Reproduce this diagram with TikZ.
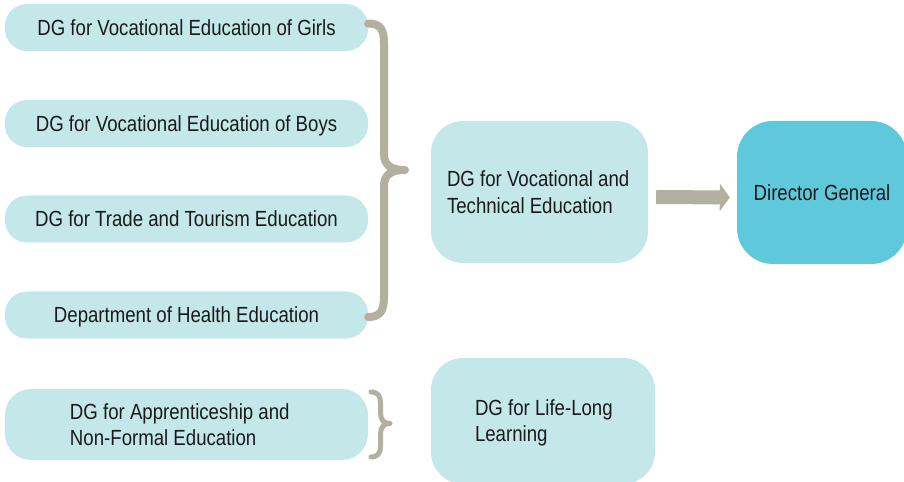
\documentclass[tikz,border=0pt]{standalone}
\usepackage{fontspec}
\setmainfont{Liberation Sans}[FakeStretch=0.85]
\usepackage{tikz}
\usetikzlibrary{positioning}
\usetikzlibrary{calc,arrows.meta}

\definecolor{boxlight}{HTML}{C4E8EA}
\definecolor{boxdark}{HTML}{5FC8DB}
\definecolor{bracegrey}{HTML}{B3B09F}
\definecolor{textdark}{HTML}{1A1A1A}

\begin{document}
\begin{tikzpicture}[x=1bp,y=-1bp,
	unit/.style={fill=boxlight, rounded corners=22bp, inner sep=0pt, text=textdark, text depth=0pt,
		minimum width=363bp, minimum height=47bp, font=\fontsize{22}{26.5}\selectfont},
	bigunit/.style={unit, rounded corners=32bp, minimum width=217bp, minimum height=142bp},
	unittext/.style={anchor=west, inner sep=0pt, align=left, text=textdark,
		font=\fontsize{22}{26.5}\selectfont},
	bracket/.style={draw=bracegrey, line width=8bp, line cap=round, line join=round},
	smallbracket/.style={bracket, line width=5bp},
	bigarrow/.style={draw=bracegrey, line width=14bp, -{Triangle[length=10bp,width=27bp]}}
	]

	% page frame, 904 x 482
	\useasboundingbox (0,0) rectangle (904,482);
	\clip (0,0) rectangle (904,482);

	% the five units on the left
	\node[unit] (girls)  at (186.5,27.5)  {DG for Vocational Education of Girls};
	\node[unit] (boys)   at (186.5,123.5) {DG for Vocational Education of Boys};
	\node[unit] (trade)  at (186.5,219)   {DG for Trade and Tourism Education};
	\node[unit] (health) at (186.5,315)   {Department of Health Education};
	\node[unit, minimum height=71bp, rounded corners=26bp,
		label={[unittext, xshift=65bp]west:{DG for Apprenticeship and\\Non-Formal Education}}]
		(appr) at (186.5,424.5) {};

	% middle column
	\node[bigunit,
		label={[unittext, xshift=16bp]west:{DG for Vocational and\\Technical Education}}]
		(vte) at (539.5,192) {};
	\node[bigunit, minimum width=224bp, minimum height=126bp,
		label={[unittext, xshift=44bp, yshift=-2bp]west:{DG for Life-Long\\Learning}}]
		(lll) at (543,421) {};

	% top of the chart
	\node[bigunit, fill=boxdark, rounded corners=36bp, minimum width=170bp, minimum height=143bp]
		(dg) at (822,192.5) {Director General};

	% braces: arms end on the boxes, tip points to the middle column
	\coordinate (btop) at ($(girls.east)+(0,-4)$);
	\coordinate (bbot) at ($(health.east)+(0,2)$);
	\coordinate (btip) at (405,170);
	\draw[bracket] (btop) .. controls (381,23.5) and (384,30) .. (384,44) -- (384,154)
		.. controls (384,166) and (392,170) .. (btip)
		.. controls (392,170) and (384,174) .. (384,186) -- (384,296)
		.. controls (384,310) and (381,317) .. (bbot);

	\coordinate (stop) at (371,392);
	\coordinate (sbot) at (371,457);
	\coordinate (stip) at (390,423.5);
	\draw[smallbracket] (stop) .. controls (378,392) and (380.5,396) .. (380.5,403) -- (380.5,413)
		.. controls (380.5,420) and (384,423.5) .. (stip)
		.. controls (384,423.5) and (380.5,427) .. (380.5,434) -- (380.5,446)
		.. controls (380.5,453) and (378,457) .. (sbot);

	% arrow up to the Director General
	\draw[bigarrow] ($(vte.east)+(8,5)$) -- ($(dg.west)+(-7,5)$);

\end{tikzpicture}
\end{document}
